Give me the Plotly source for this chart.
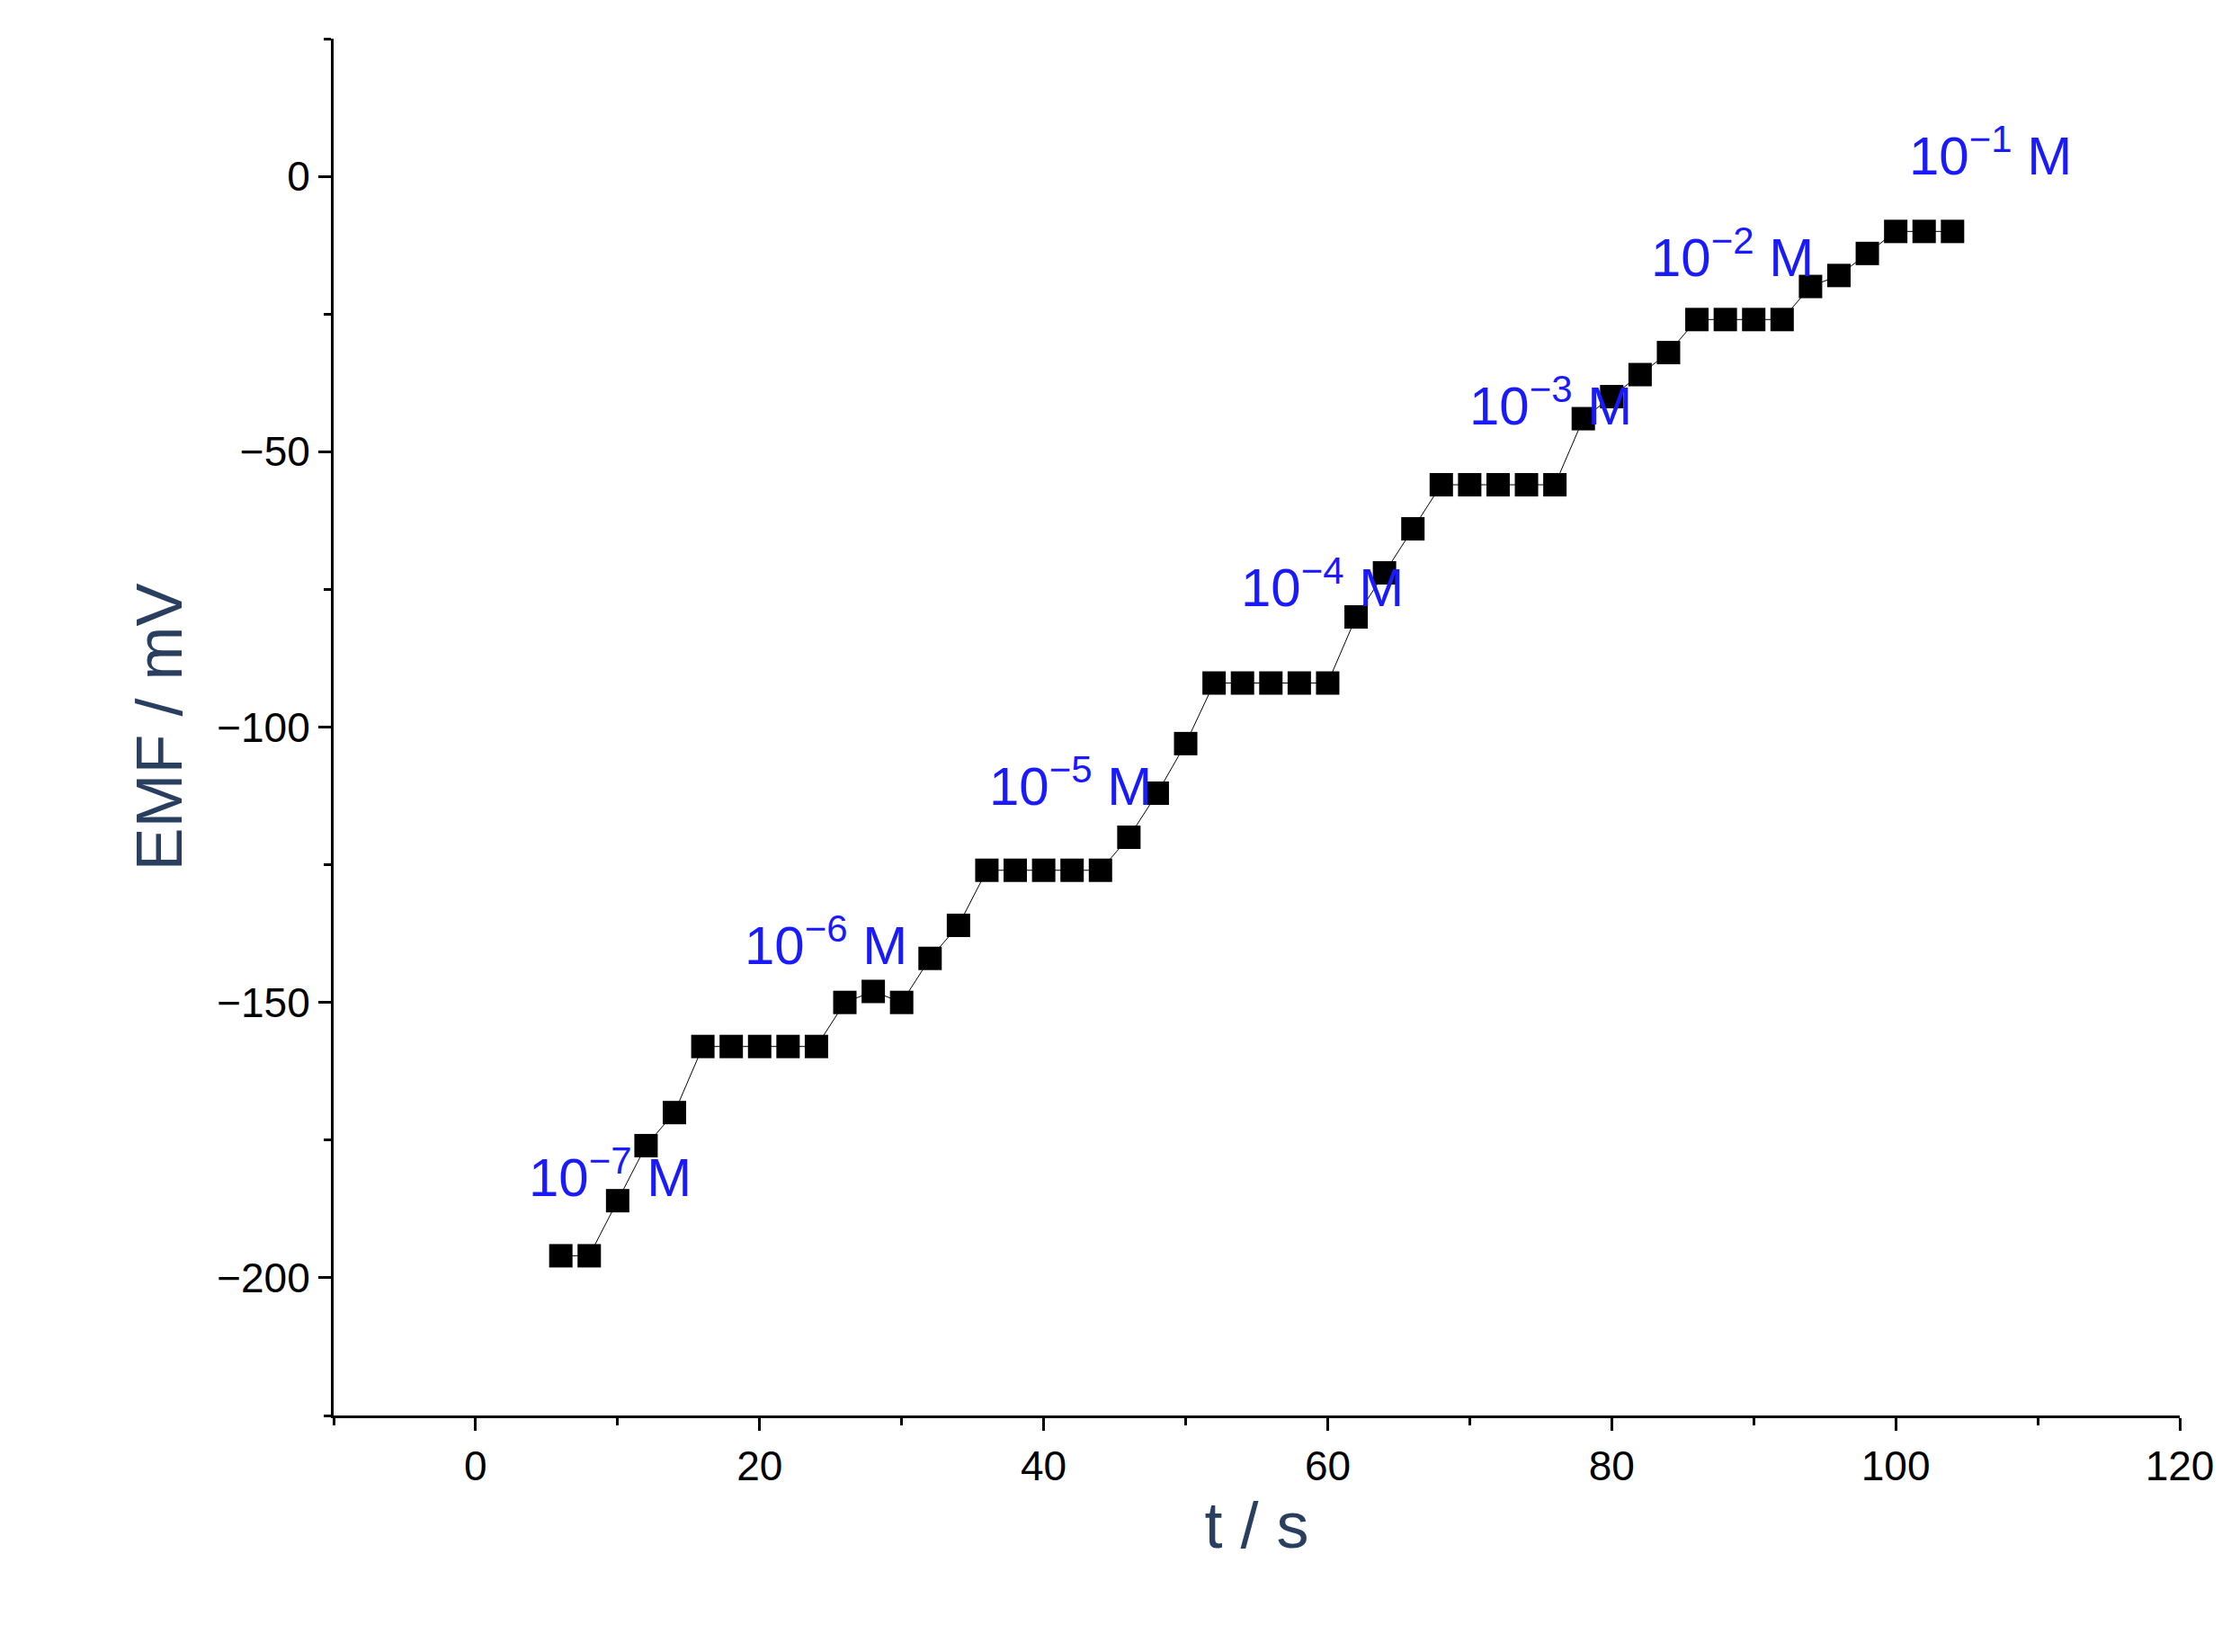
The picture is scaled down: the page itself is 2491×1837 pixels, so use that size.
import plotly.graph_objects as go

t = list(range(6, 106, 2))
emf = [-196, -196, -186, -176, -170, -158, -158, -158, -158, -158,
       -150, -148, -150, -142, -136, -126, -126, -126, -126, -126,
       -120, -112, -103, -92, -92, -92, -92, -92, -80, -72,
       -64, -56, -56, -56, -56, -56, -44, -40, -36, -32,
       -26, -26, -26, -26, -20, -18, -14, -10, -10, -10]

lab_exp = ["7", "6", "5", "4", "3", "2", "1"]
lab_x = [9.5, 24.7, 41.9, 59.6, 75.7, 88.5, 106.7]
lab_y = [-181, -139, -110, -74, -41, -14, 4.5]

fig = go.Figure()
fig.add_trace(go.Scatter(x=t, y=emf, mode="lines+markers",
                         line=dict(color="black", width=1),
                         marker=dict(symbol="square", size=26, color="black"),
                         showlegend=False))
for e, x, y in zip(lab_exp, lab_x, lab_y):
    fig.add_annotation(x=x, y=y, text=f"10<sup>−{e}</sup> M", showarrow=False,
                       font=dict(family="Liberation Sans", size=60, color="#1a1aff"))

ax = dict(showgrid=False, zeroline=False, showline=True, linecolor="black", linewidth=3,
          ticks="outside", ticklen=14, tickwidth=3, tickcolor="black",
          tickfont=dict(family="Liberation Sans", size=46, color="black"),
          minor=dict(ticks="outside", ticklen=8, tickwidth=3, tickcolor="black"))
fig.update_xaxes(**ax, range=[-10, 120], dtick=20, minor_dtick=10,
                 title=dict(text="t / s", font=dict(family="Liberation Sans", size=72)))
fig.update_yaxes(**ax, range=[-225, 25], tick0=0, dtick=50, minor_dtick=25,
                 title=dict(text="EMF / mV", font=dict(family="Liberation Sans", size=72)))
fig.update_layout(width=2491, height=1837, plot_bgcolor="white", paper_bgcolor="white",
                  margin=dict(l=363, r=75, t=35, b=271))
fig.write_html("out.html")
